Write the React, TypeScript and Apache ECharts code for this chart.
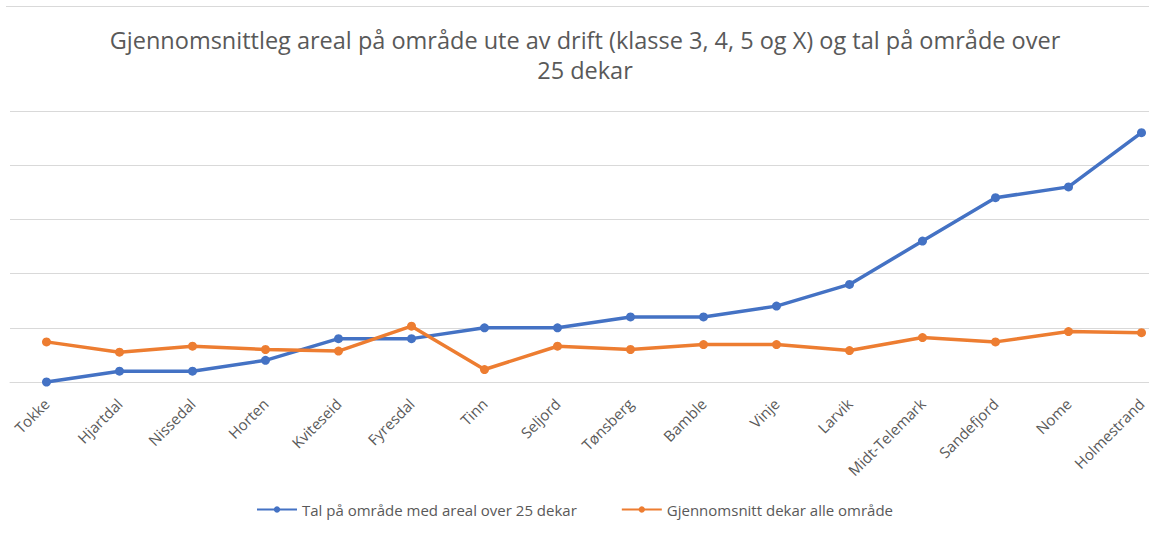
import React, { useEffect, useRef } from "react";
import * as echarts from "echarts";

const categories = [
  "Tokke", "Hjartdal", "Nissedal", "Horten", "Kviteseid", "Fyresdal", "Tinn", "Seljord",
  "Tønsberg", "Bamble", "Vinje", "Larvik", "Midt-Telemark", "Sandefjord", "Nome", "Holmestrand",
];
const talOmrade = [0, 2, 2, 4, 8, 8, 10, 10, 12, 12, 14, 18, 26, 34, 36, 46];
const snittDekar = [7.4, 5.5, 6.6, 6.0, 5.7, 10.3, 2.3, 6.6, 6.0, 6.9, 6.9, 5.8, 8.2, 7.4, 9.3, 9.1];
const seriesNames = ["Tal på område med areal over 25 dekar", "Gjennomsnitt dekar alle område"];
const titleText = "Gjennomsnittleg areal på område ute av drift (klasse 3, 4, 5 og X) og tal på område over\n25 dekar";

const FONT = "'Open Sans', sans-serif";

export default function App() {
  const ref = useRef<HTMLDivElement>(null);
  useEffect(() => {
    if (!ref.current) return;
    const chart = echarts.init(ref.current, null, { renderer: "svg" });
    chart.setOption({
      animation: false,
      backgroundColor: "#ffffff",
      textStyle: { fontFamily: FONT },
      title: {
        text: titleText,
        left: 580,
        top: 20,
        textAlign: "center",
        textStyle: {
          fontFamily: FONT,
          fontSize: 23.5,
          fontWeight: "normal",
          color: "#595959",
          lineHeight: 30,
        },
      },
      graphic: [
        {
          type: "line",
          shape: { x1: 6, y1: 6.5, x2: 1149, y2: 6.5 },
          style: { stroke: "#D9D9D9", lineWidth: 1 },
        },
      ],
      legend: {
        top: 497,
        left: "center",
        itemWidth: 40,
        itemHeight: 8,
        itemGap: 44,
        textStyle: { fontFamily: FONT, fontSize: 15, color: "#595959" },
        data: seriesNames,
      },
      grid: {
        left: 10,
        top: 111,
        height: 271,
        width: 1168,
        containLabel: false,
        outerBoundsMode: "none",
      },
      xAxis: {
        type: "category",
        data: categories,
        boundaryGap: true,
        axisLine: { show: true, lineStyle: { color: "#D9D9D9", width: 1 } },
        axisTick: { show: false },
        axisLabel: {
          rotate: 45,
          interval: 0,
          margin: 19,
          fontFamily: FONT,
          fontSize: 15,
          color: "#595959",
        },
      },
      yAxis: {
        type: "value",
        min: 0,
        max: 50,
        interval: 10,
        axisLabel: { show: false },
        axisLine: { show: false },
        axisTick: { show: false },
        splitLine: { lineStyle: { color: "#D9D9D9", width: 1 } },
      },
      series: [
        {
          name: seriesNames[0],
          type: "line",
          data: talOmrade,
          color: "#4472C4",
          symbol: "circle",
          symbolSize: 9,
          lineStyle: { width: 3.5, color: "#4472C4" },
          itemStyle: { color: "#4472C4" },
        },
        {
          name: seriesNames[1],
          type: "line",
          data: snittDekar,
          color: "#ED7D31",
          symbol: "circle",
          symbolSize: 9,
          lineStyle: { width: 3.5, color: "#ED7D31" },
          itemStyle: { color: "#ED7D31" },
        },
      ],
    });
    return () => chart.dispose();
  }, []);
  return (
    <div
      ref={ref}
      style={{ position: "fixed", left: 0, top: 0, width: 1149, height: 533 }}
    />
  );
}
